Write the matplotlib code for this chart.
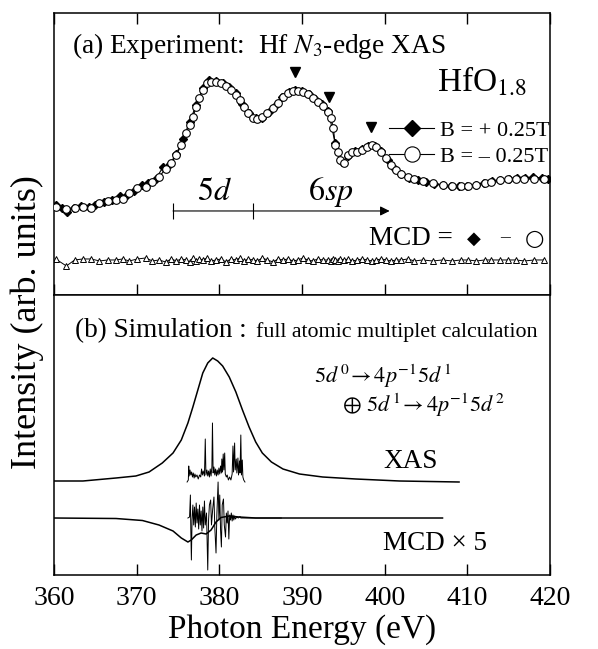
import numpy as np
import matplotlib
matplotlib.use("Agg")
import matplotlib.pyplot as plt

plt.rcParams['font.family'] = ['Liberation Serif', 'DejaVu Serif']
plt.rcParams['mathtext.fontset'] = 'stix'

# ---- (a) experiment : XAS with B = -0.25T (open circles) ----
e_open = [360.2, 361.5, 362.5, 363.5, 364.5, 365.5, 366.5, 367.5, 368.3, 369.1,
          370.1, 371.1, 371.9, 372.7, 373.5, 374.2, 374.8, 375.4, 376.0, 376.4,
          376.8, 377.2, 377.6, 378.0, 378.5, 379.0, 379.6, 380.2, 380.8, 381.4,
          382.0, 382.5, 383.0, 383.5, 384.1, 384.6, 385.2, 385.8, 386.5, 387.1,
          387.7, 388.3, 388.9, 389.5, 390.1, 390.7, 391.3, 391.9, 392.5, 393.1,
          393.5, 393.8, 394.0, 394.3, 394.6, 395.1, 395.6, 396.1, 396.7, 397.3,
          397.9, 398.5, 399.0, 399.6, 400.2, 400.8, 401.4, 402.0, 402.8, 403.6,
          404.6, 405.8, 407.0, 408.2, 409.2, 410.1, 411.1, 412.1, 412.9, 413.9,
          414.9, 415.9, 416.9, 418.1, 419.3]
xas_open = [0.88, 0.86, 0.87, 0.88, 0.87, 0.92, 0.94, 0.95, 0.96, 1.02,
            1.07, 1.08, 1.13, 1.18, 1.26, 1.32, 1.40, 1.50, 1.62, 1.70,
            1.78, 1.88, 1.97, 2.05, 2.12, 2.13, 2.13, 2.12, 2.09, 2.05,
            2.00, 1.95, 1.88, 1.82, 1.77, 1.76, 1.78, 1.82, 1.87, 1.92,
            1.98, 2.02, 2.04, 2.04, 2.03, 2.01, 1.97, 1.93, 1.89, 1.83,
            1.77, 1.67, 1.50, 1.43, 1.35, 1.32, 1.40, 1.43, 1.43, 1.45,
            1.48, 1.50, 1.48, 1.43, 1.37, 1.30, 1.25, 1.21, 1.18, 1.16,
            1.14, 1.12, 1.10, 1.09, 1.09, 1.09, 1.10, 1.12, 1.13, 1.15,
            1.16, 1.16, 1.16, 1.16, 1.16]

# ---- (a) experiment : XAS with B = +0.25T (filled diamonds) ----
e_fill = [360.2, 361.0, 361.6, 362.4, 363.3, 364.2, 365.0, 366.0, 367.0, 368.0,
          368.8, 369.7, 370.6, 371.4, 372.3, 373.2, 374.0, 374.8, 375.6, 376.4,
          377.2, 378.0, 378.8, 379.6, 380.4, 381.2, 382.0, 382.8, 383.6, 384.4,
          385.2, 386.0, 386.8, 387.6, 388.4, 389.2, 390.0, 390.8, 391.6, 392.4,
          393.2, 394.0, 394.8, 395.6, 396.4, 397.2, 398.0, 398.8, 399.6, 400.4,
          401.2, 402.0, 403.0, 404.0, 405.0, 406.0, 407.0, 408.0, 409.0, 410.0,
          411.0, 412.0, 413.0, 414.0, 415.0, 416.0, 417.0, 418.0, 419.0, 419.8]
xas_fill = [0.90, 0.87, 0.83, 0.87, 0.89, 0.88, 0.90, 0.93, 0.95, 0.99,
            1.00, 1.04, 1.10, 1.12, 1.16, 1.28, 1.31, 1.41, 1.56, 1.73,
            1.90, 2.07, 2.15, 2.14, 2.12, 2.08, 2.02, 1.91, 1.82, 1.77,
            1.77, 1.83, 1.90, 1.98, 2.03, 2.05, 2.04, 2.01, 1.96, 1.91,
            1.84, 1.52, 1.33, 1.39, 1.44, 1.46, 1.49, 1.49, 1.44, 1.35,
            1.26, 1.21, 1.17, 1.15, 1.13, 1.11, 1.10, 1.09, 1.09, 1.09,
            1.10, 1.12, 1.14, 1.15, 1.16, 1.17, 1.17, 1.18, 1.17, 1.16]

# ---- (a) experiment : MCD (open triangles) ----
mcd_exp = [0.36, 0.29, 0.35, 0.36, 0.36, 0.34, 0.35, 0.35, 0.36, 0.34,
           0.36, 0.37, 0.34, 0.35, 0.33, 0.36, 0.34, 0.36, 0.35, 0.33,
           0.37, 0.34, 0.36, 0.35, 0.37, 0.34, 0.35, 0.36, 0.33, 0.36,
           0.35, 0.37, 0.34, 0.36, 0.35, 0.34, 0.37, 0.35, 0.33, 0.36,
           0.35, 0.36, 0.34, 0.35, 0.37, 0.35, 0.34, 0.36, 0.35, 0.35,
           0.34, 0.36, 0.35, 0.34, 0.36, 0.35, 0.36, 0.34, 0.35, 0.36,
           0.35, 0.34, 0.35, 0.36, 0.35, 0.34, 0.35, 0.35, 0.36, 0.34,
           0.35, 0.34, 0.35, 0.34, 0.35, 0.35, 0.34, 0.35, 0.35, 0.35,
           0.35, 0.35, 0.34, 0.35, 0.35]

peak_marks = [389.1, 393.3, 398.3]
peak_heights = [2.23, 1.98, 1.68]

# ---- (b) simulation : broadened XAS ----
e_xas_sim = [359.9, 363.5, 367.5, 369.9, 371.5, 373.1, 374.4, 375.4, 376.2, 376.8,
             377.4, 378.0, 378.6, 379.2, 379.8, 380.4, 381.2, 382.0, 382.8, 383.6,
             384.4, 385.2, 386.3, 387.7, 389.7, 392.5, 396.5, 401.8, 409.0]
xas_sim = [0.94, 0.94, 0.97, 0.99, 1.03, 1.12, 1.22, 1.35, 1.52, 1.68,
           1.85, 2.02, 2.12, 2.17, 2.14, 2.09, 1.98, 1.83, 1.65, 1.48,
           1.33, 1.22, 1.13, 1.06, 1.01, 0.98, 0.96, 0.94, 0.93]

# ---- (b) simulation : XAS line spectrum ----
e_xas_line = [376.1, 376.25, 376.3, 376.35, 376.45, 376.55, 376.65, 376.75, 376.85, 376.95,
              377.05, 377.15, 377.3, 377.45, 377.6, 377.75, 377.85, 377.95, 378.05, 378.2,
              378.3, 378.38, 378.5, 378.6, 378.7, 378.8, 378.9, 379.0, 379.1, 379.17,
              379.25, 379.35, 379.45, 379.55, 379.65, 379.75, 379.85, 379.95, 380.05, 380.15,
              380.25, 380.3, 380.38, 380.47, 380.55, 380.65, 380.72, 380.85, 380.95, 381.1,
              381.25, 381.4, 381.55, 381.65, 381.72, 381.85, 381.92, 382.05, 382.12, 382.25,
              382.32, 382.45, 382.5, 382.6, 382.68, 382.78, 382.85, 382.95, 383.1]
xas_line = [0.93, 0.95, 1.09, 0.99, 1.05, 1.00, 1.03, 0.98, 1.02, 0.97,
            1.01, 0.98, 1.00, 0.96, 1.00, 0.98, 1.06, 1.00, 1.04, 0.99,
            1.36, 1.00, 1.05, 0.99, 1.04, 0.98, 1.06, 0.99, 1.08, 1.52,
            1.02, 1.08, 1.00, 1.06, 0.99, 1.05, 1.00, 1.07, 1.01, 1.09,
            1.02, 1.16, 1.03, 1.21, 1.05, 1.22, 1.01, 0.98, 1.00, 0.95,
            0.98, 0.95, 1.01, 1.29, 1.03, 1.32, 1.05, 1.16, 1.02, 1.17,
            1.00, 1.14, 1.02, 1.40, 1.00, 1.15, 0.98, 0.95, 0.93]

# ---- (b) simulation : broadened MCD x5 ----
e_mcd_sim = [360.0, 367.5, 370.7, 372.7, 374.4, 375.4, 376.2, 376.6, 377.2, 377.8,
             378.4, 379.0, 379.6, 380.2, 381.2, 382.4, 384.4, 407.0]
mcd_sim = [0.57, 0.565, 0.545, 0.50, 0.44, 0.37, 0.33, 0.35, 0.40, 0.42,
           0.41, 0.45, 0.53, 0.575, 0.59, 0.58, 0.57, 0.57]

# ---- (b) simulation : MCD line spectrum ----
e_mcd_line = [376.2, 376.4, 376.5, 376.55, 376.62, 376.7, 376.8, 376.9, 377.0, 377.1,
              377.2, 377.3, 377.4, 377.5, 377.6, 377.7, 377.8, 377.9, 378.0, 378.1,
              378.2, 378.3, 378.45, 378.6, 378.7, 378.8, 378.95, 379.05, 379.2, 379.35,
              379.45, 379.6, 379.7, 379.85, 379.95, 380.05, 380.15, 380.25, 380.35, 380.5,
              380.6, 380.75, 380.85, 380.95, 381.05, 381.15, 381.25, 381.35, 381.45, 381.55,
              381.65, 381.75, 381.85, 381.95, 382.1, 382.3, 382.5, 382.6, 387.5]
mcd_line = [0.57, 0.58, 0.80, 0.45, 0.15, 0.55, 0.70, 0.50, 0.68, 0.48,
            0.72, 0.52, 0.66, 0.46, 0.70, 0.50, 0.64, 0.44, 0.68, 0.47,
            0.74, 0.50, 0.62, 0.05, 0.55, 0.70, 0.75, 0.50, 0.66, 0.78,
            0.48, 0.22, 0.60, 0.93, 0.55, 0.80, 0.45, 0.28, 0.70, 0.76,
            0.50, 0.38, 0.62, 0.52, 0.64, 0.36, 0.60, 0.55, 0.62, 0.54,
            0.60, 0.55, 0.59, 0.56, 0.58, 0.57, 0.585, 0.57, 0.57]

xticks = [360, 370, 380, 390, 400, 410, 420]

fig = plt.figure(figsize=(5.98, 6.49), dpi=100)
ax1 = fig.add_axes([0.0903, 0.5455, 0.8294, 0.4345])
ax2 = fig.add_axes([0.0903, 0.114, 0.8294, 0.4315])

for ax in (ax1, ax2):
    ax.set_xlim(360, 420)
    ax.set_xticks(xticks)
    ax.set_yticks([])
    ax.tick_params(axis='x', direction='in', length=8, width=1, top=True,
                   labelsize=20, pad=8)
    for s in ax.spines.values():
        s.set_linewidth(1.1)
ax1.set_ylim(0, 2.82)
ax2.set_ylim(0, 2.80)
ax1.tick_params(axis='x', labelbottom=False)
ax2.tick_params(axis='x', top=False)

# panel (a)
l_fill, = ax1.plot(e_fill, xas_fill, '-', color='black', lw=0.8, marker='D',
                   ms=4, mfc='black', mec='black', zorder=2)
l_open, = ax1.plot(e_open, xas_open, '-', color='black', lw=0.8, marker='o',
                   ms=5.5, mfc='white', mec='black', mew=0.8, zorder=3)
ax1.plot(e_open, mcd_exp, '-', color='black', lw=0.7, marker='^', ms=4.5,
         mfc='white', mec='black', mew=0.7)
ax1.plot(peak_marks, peak_heights, 'v', color='black', ms=6.5)

leg = ax1.legend([l_fill, l_open], ['B = + 0.25T', 'B = \u2013 0.25T'],
                 loc='upper left', bbox_to_anchor=(0.676, 0.62), frameon=False,
                 numpoints=1, markerscale=2.0, handlelength=2.0,
                 fontsize=16, labelspacing=0.25, handletextpad=0.3,
                 borderpad=0, borderaxespad=0)

ax1.text(362.2, 2.42, '(a) Experiment:  Hf $\\mathit{N}_3$-edge XAS',
         fontsize=19.7)
ax1.text(406.3, 2.03, 'HfO$_{1.8}$', fontsize=24)
ax1.text(379.4, 0.95, '$5d$', fontsize=23, ha='center')
ax1.text(393.5, 0.95, '$6sp$', fontsize=23, ha='center')
ax1.annotate('', xy=(400.6, 0.84), xytext=(374.4, 0.84),
             arrowprops=dict(arrowstyle='-|>', color='black', lw=0.8,
                             mutation_scale=14, shrinkA=0, shrinkB=0))
ax1.vlines([374.4, 384.1], 0.76, 0.92, color='black', lw=0.8)
ax1.text(398.1, 0.50, 'MCD =', fontsize=19.5)
ax1.text(410.8, 0.56, '\u25c6', fontsize=13, ha='center', va='center',
         family=['DejaVu Sans'])
ax1.text(414.5, 0.57, '\u2013', fontsize=14, ha='center', va='center')
ax1.text(418.1, 0.56, '\u25cb', fontsize=16, ha='center', va='center',
         family=['DejaVu Sans'])

# panel (b)
ax2.plot(e_xas_sim, xas_sim, color='black', lw=1.1)
ax2.plot(e_xas_line, xas_line, color='black', lw=0.7)
ax2.plot(e_mcd_sim, mcd_sim, color='black', lw=1.1)
ax2.plot(e_mcd_line, mcd_line, color='black', lw=0.7)

ax2.text(362.5, 2.38, '(b) Simulation :', fontsize=19.5)
ax2.text(384.4, 2.38, 'full atomic multiplet calculation', fontsize=15.8)
ax2.text(391.5, 1.92, '$5d^{\\,0}\\!\\rightarrow 4p^{-1}5d^{\\,1}$',
         fontsize=16)
ax2.text(394.8, 1.63, '$\\oplus\\ 5d^{\\,1}\\!\\rightarrow 4p^{-1}5d^{\\,2}$',
         fontsize=16)
ax2.text(399.8, 1.07, 'XAS', fontsize=19.5)
ax2.text(399.8, 0.25, 'MCD \u00d7 5', fontsize=19.5)

ax2.set_xlabel('Photon Energy (eV)', fontsize=24, labelpad=2)
fig.text(0.045, 0.504, 'Intensity (arb. units)', rotation=90, fontsize=26,
         ha='center', va='center')

fig.savefig('out.png', dpi=100)
